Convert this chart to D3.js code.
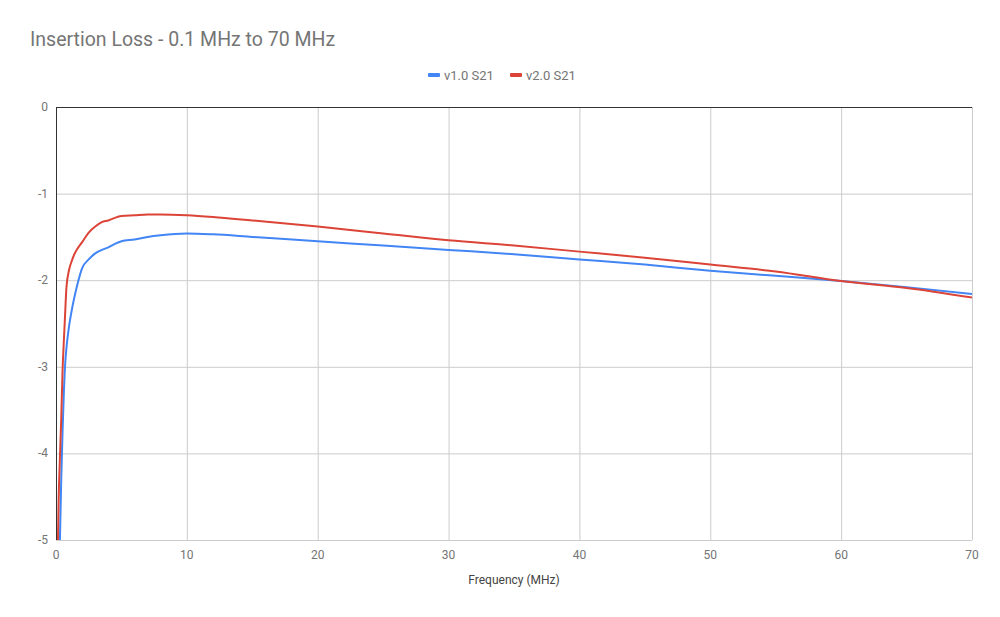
<!DOCTYPE html>
<html>
<head>
<meta charset="utf-8">
<script src="https://cdn.jsdelivr.net/npm/d3@7"></script>
<style>
  body { margin: 0; background: #fff; }
  text { font-family: Roboto, "Noto Sans", sans-serif; }
</style>
</head>
<body>
<script>
// frequency points (MHz)
var freqs = [0.1, 0.15, 0.2, 0.3, 0.4, 0.5, 0.6, 0.7, 0.8, 1.0, 1.2, 1.4, 1.6, 2.0, 2.5, 3.0, 3.5, 4.0, 4.5, 5.0,
             6, 7, 8, 10, 12, 15, 20, 25, 30, 35, 40, 45, 50, 55, 60, 65, 70];
// v1.0 S21 (dB)
var v1 = [-6.5, -6.0, -5.5, -5.0, -4.3, -3.75, -3.3, -2.97, -2.78, -2.53, -2.35, -2.20, -2.07, -1.86, -1.76, -1.69, -1.65, -1.62, -1.58, -1.55,
          -1.53, -1.50, -1.48, -1.46, -1.47, -1.50, -1.55, -1.60, -1.65, -1.70, -1.76, -1.82, -1.89, -1.95, -2.01, -2.08, -2.16];
// v2.0 S21 (dB)
var v2 = [-5.6, -5.0, -4.55, -4.05, -3.6, -3.05, -2.7, -2.38, -2.08, -1.88, -1.78, -1.70, -1.645, -1.56, -1.45, -1.38, -1.33, -1.31, -1.28, -1.26,
          -1.25, -1.24, -1.24, -1.25, -1.27, -1.31, -1.38, -1.46, -1.54, -1.60, -1.67, -1.74, -1.82, -1.90, -2.01, -2.09, -2.20];
var seriesNames = ["v1.0 S21", "v2.0 S21"];
var seriesColors = ["#4285f4", "#db4437"];
var xTicks = [0, 10, 20, 30, 40, 50, 60, 70];
var yTicks = [0, -1, -2, -3, -4, -5];

var width = 1000, height = 617;
var margin = {left: 56, right: 28, top: 107, bottom: 77};

var svg = d3.select("body").append("svg")
    .attr("width", width)
    .attr("height", height);

var x = d3.scaleLinear().domain([0, 70]).range([margin.left, width - margin.right]);
var y = d3.scaleLinear().domain([-5, 0]).range([height - margin.bottom, margin.top]);

//title
svg.append("text")
    .attr("x", 30).attr("y", 46)
    .attr("font-size", 19.5)
    .attr("fill", "#757575")
    .text("Insertion Loss - 0.1 MHz to 70 MHz");

//gridlines
svg.append("g").selectAll("line").data(yTicks.filter(d => d !== 0)).enter().append("line")
    .attr("x1", x(0)).attr("x2", x(70))
    .attr("y1", d => y(d) + 0.5).attr("y2", d => y(d) + 0.5)
    .attr("stroke", "#cccccc");
svg.append("g").selectAll("line").data(xTicks.filter(d => d !== 0)).enter().append("line")
    .attr("y1", y(0)).attr("y2", y(-5))
    .attr("x1", d => x(d) + 0.5).attr("x2", d => x(d) + 0.5)
    .attr("stroke", "#cccccc");

//tick labels
svg.append("g").selectAll("text").data(yTicks).enter().append("text")
    .attr("x", margin.left - 8)
    .attr("y", d => y(d) + 4)
    .attr("text-anchor", "end")
    .attr("font-size", 12)
    .attr("fill", "#757575")
    .text(d => d);
svg.append("g").selectAll("text").data(xTicks).enter().append("text")
    .attr("x", d => x(d))
    .attr("y", y(-5) + 19)
    .attr("text-anchor", "middle")
    .attr("font-size", 12)
    .attr("fill", "#757575")
    .text(d => d);

//axis title
svg.append("text")
    .attr("x", (x(0) + x(70)) / 2)
    .attr("y", 584)
    .attr("text-anchor", "middle")
    .attr("font-size", 12)
    .attr("fill", "#444")
    .text("Frequency (MHz)");

//clip for lines
svg.append("clipPath").attr("id", "plot")
    .append("rect")
    .attr("x", x(0)).attr("y", y(0))
    .attr("width", x(70) - x(0)).attr("height", y(-5) - y(0));

var line = d3.line()
    .x(d => x(d[0]))
    .y(d => y(d[1]))
    .curve(d3.curveMonotoneX);

[v1, v2].forEach(function(vals, i){
    svg.append("path")
        .datum(freqs.map((f, j) => [f, vals[j]]))
        .attr("clip-path", "url(#plot)")
        .attr("fill", "none")
        .attr("stroke", seriesColors[i])
        .attr("stroke-width", 2)
        .attr("d", line);
});

//baselines
svg.append("line")
    .attr("x1", x(0)).attr("x2", x(70))
    .attr("y1", y(0) + 0.5).attr("y2", y(0) + 0.5)
    .attr("stroke", "#333");
svg.append("line")
    .attr("x1", x(0) + 0.5).attr("x2", x(0) + 0.5)
    .attr("y1", y(0)).attr("y2", y(-5))
    .attr("stroke", "#333");

//legend
var legendX = [428, 510];
seriesNames.forEach(function(name, i){
    var g = svg.append("g").attr("transform", "translate(" + legendX[i] + ",75)");
    g.append("rect")
        .attr("x", 0).attr("y", -2)
        .attr("width", 12).attr("height", 4)
        .attr("rx", 1)
        .attr("fill", seriesColors[i]);
    g.append("text")
        .attr("x", 16).attr("y", 4.5)
        .attr("font-size", 13)
        .attr("fill", "#757575")
        .text(name);
});
</script>
</body>
</html>
